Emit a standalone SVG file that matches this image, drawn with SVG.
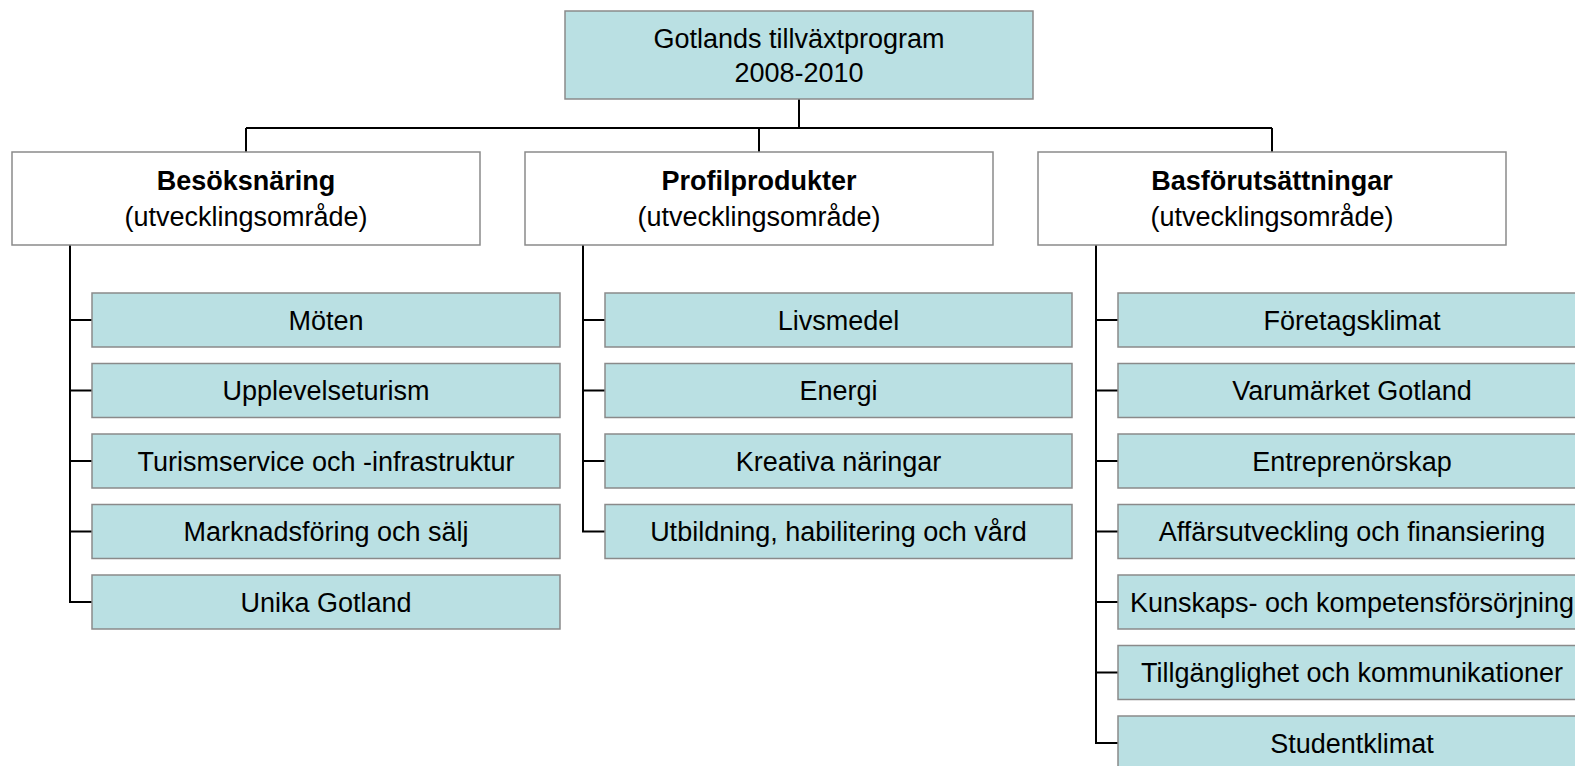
<svg xmlns="http://www.w3.org/2000/svg" width="1575" height="766" viewBox="0 0 1575 766">
<style>
.bg{fill:#ffffff}
.box{stroke:#8a8a8a;stroke-width:1.5}
.teal{fill:#bae0e3}
.white{fill:#ffffff}
.t{font-family:"Liberation Sans",Arial,sans-serif;font-size:27px;fill:#000;text-anchor:middle}
.b{font-weight:bold}
.c{fill:none;stroke:#000;stroke-width:2}
</style>
<rect class="bg" x="0" y="0" width="1575" height="766"/>
<g id="connectors">
<path class="c" d="M799,99V128M246,128H1272M246,128V152M759,128V152M1272,128V152"/>
<path class="c" d="M70,245V602H92M70,320H92M70,390.5H92M70,461H92M70,531.5H92"/>
<path class="c" d="M583,245V531.5H605M583,320H605M583,390.5H605M583,461H605"/>
<path class="c" d="M1096,245V743H1118M1096,320H1118M1096,390.5H1118M1096,461H1118M1096,531.5H1118M1096,602H1118M1096,672.5H1118"/>
</g>
<g id="root"><rect class="box teal" x="565" y="11" width="468" height="88"/><text class="t" x="799" y="48">Gotlands tillväxtprogram</text><text class="t" x="799" y="82">2008-2010</text></g>
<g id="h1"><rect class="box white" x="12" y="152" width="468" height="93"/><text class="t b" x="246" y="190">Besöksnäring</text><text class="t" x="246" y="226">(utvecklingsområde)</text></g>
<g id="h2"><rect class="box white" x="525" y="152" width="468" height="93"/><text class="t b" x="759" y="190">Profilprodukter</text><text class="t" x="759" y="226">(utvecklingsområde)</text></g>
<g id="h3"><rect class="box white" x="1038" y="152" width="468" height="93"/><text class="t b" x="1272" y="190">Basförutsättningar</text><text class="t" x="1272" y="226">(utvecklingsområde)</text></g>
<g id="a1"><rect class="box teal" x="92" y="293" width="468" height="54"/><text class="t" x="326" y="329.5">Möten</text></g>
<g id="a2"><rect class="box teal" x="92" y="363.5" width="468" height="54"/><text class="t" x="326" y="400">Upplevelseturism</text></g>
<g id="a3"><rect class="box teal" x="92" y="434" width="468" height="54"/><text class="t" x="326" y="470.5">Turismservice och -infrastruktur</text></g>
<g id="a4"><rect class="box teal" x="92" y="504.5" width="468" height="54"/><text class="t" x="326" y="541">Marknadsföring och sälj</text></g>
<g id="a5"><rect class="box teal" x="92" y="575" width="468" height="54"/><text class="t" x="326" y="611.5">Unika Gotland</text></g>
<g id="b1"><rect class="box teal" x="605" y="293" width="467" height="54"/><text class="t" x="838.5" y="329.5">Livsmedel</text></g>
<g id="b2"><rect class="box teal" x="605" y="363.5" width="467" height="54"/><text class="t" x="838.5" y="400">Energi</text></g>
<g id="b3"><rect class="box teal" x="605" y="434" width="467" height="54"/><text class="t" x="838.5" y="470.5">Kreativa näringar</text></g>
<g id="b4"><rect class="box teal" x="605" y="504.5" width="467" height="54"/><text class="t" x="838.5" y="541">Utbildning, habilitering och vård</text></g>
<g id="c1"><rect class="box teal" x="1118" y="293" width="468" height="54"/><text class="t" x="1352" y="329.5">Företagsklimat</text></g>
<g id="c2"><rect class="box teal" x="1118" y="363.5" width="468" height="54"/><text class="t" x="1352" y="400">Varumärket Gotland</text></g>
<g id="c3"><rect class="box teal" x="1118" y="434" width="468" height="54"/><text class="t" x="1352" y="470.5">Entreprenörskap</text></g>
<g id="c4"><rect class="box teal" x="1118" y="504.5" width="468" height="54"/><text class="t" x="1352" y="541">Affärsutveckling och finansiering</text></g>
<g id="c5"><rect class="box teal" x="1118" y="575" width="468" height="54"/><text class="t" x="1352" y="611.5">Kunskaps- och kompetensförsörjning</text></g>
<g id="c6"><rect class="box teal" x="1118" y="645.5" width="468" height="54"/><text class="t" x="1352" y="682">Tillgänglighet och kommunikationer</text></g>
<g id="c7"><rect class="box teal" x="1118" y="716" width="468" height="54"/><text class="t" x="1352" y="752.5">Studentklimat</text></g>
</svg>
